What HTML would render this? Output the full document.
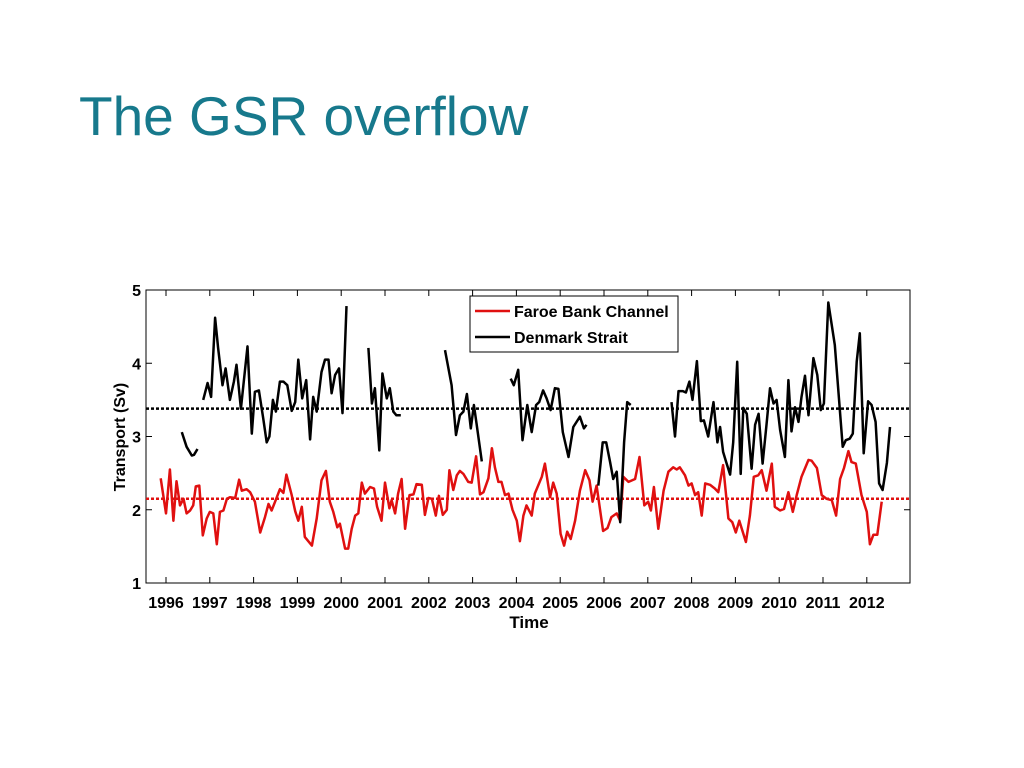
<!DOCTYPE html>
<html><head><meta charset="utf-8">
<style>
body{margin:0;background:#fff;width:1024px;height:768px;overflow:hidden;font-family:"Liberation Sans",sans-serif}
#title{position:absolute;left:79px;top:84px;font-size:55px;color:#17798c;margin:0;font-weight:normal}
</style></head><body>
<h1 id="title">The GSR overflow</h1>
<svg id="chart" width="1024" height="768" style="position:absolute;left:0;top:0"></svg>
<script>
const yTicks=[1,2,3,4,5];
const xTicks=[1996,1997,1998,1999,2000,2001,2002,2003,2004,2005,2006,2007,2008,2009,2010,2011,2012];
const fbcMean=2.15;
const dsMean=3.38;
const fbcYears=[1995.88,1996.00,1996.09,1996.17,1996.24,1996.32,1996.40,1996.47,1996.55,1996.62,1996.68,1996.76,1996.84,1996.93,1997.00,1997.08,1997.16,1997.23,1997.31,1997.39,1997.46,1997.58,1997.67,1997.73,1997.84,1997.92,1998.03,1998.15,1998.26,1998.34,1998.41,1998.49,1998.60,1998.68,1998.75,1998.87,1998.95,1999.02,1999.10,1999.17,1999.33,1999.44,1999.55,1999.65,1999.74,1999.82,1999.91,1999.97,2000.09,2000.16,2000.24,2000.32,2000.39,2000.47,2000.54,2000.66,2000.75,2000.82,2000.92,2001.00,2001.10,2001.15,2001.23,2001.30,2001.38,2001.46,2001.56,2001.65,2001.72,2001.84,2001.91,2001.99,2002.07,2002.16,2002.23,2002.32,2002.41,2002.47,2002.56,2002.64,2002.71,2002.79,2002.90,2002.98,2003.08,2003.17,2003.25,2003.36,2003.44,2003.51,2003.59,2003.66,2003.74,2003.82,2003.91,2004.01,2004.08,2004.16,2004.23,2004.35,2004.42,2004.58,2004.65,2004.77,2004.84,2004.92,2005.01,2005.09,2005.16,2005.24,2005.34,2005.45,2005.57,2005.67,2005.74,2005.83,2005.98,2006.08,2006.17,2006.29,2006.37,2006.44,2006.56,2006.71,2006.81,2006.92,2007.01,2007.07,2007.14,2007.24,2007.36,2007.47,2007.58,2007.66,2007.73,2007.85,2007.93,2008.00,2008.08,2008.15,2008.23,2008.31,2008.42,2008.53,2008.61,2008.72,2008.84,2008.93,2009.01,2009.09,2009.24,2009.33,2009.42,2009.52,2009.60,2009.71,2009.83,2009.90,2010.02,2010.11,2010.21,2010.31,2010.40,2010.51,2010.67,2010.74,2010.86,2010.97,2011.08,2011.20,2011.30,2011.39,2011.48,2011.58,2011.65,2011.75,2011.88,2012.00,2012.07,2012.15,2012.24,2012.34];
const fbcVals=[2.43,1.95,2.55,1.85,2.39,2.06,2.15,1.95,1.99,2.06,2.32,2.33,1.65,1.88,1.97,1.95,1.53,1.97,1.99,2.15,2.17,2.16,2.41,2.26,2.28,2.24,2.11,1.69,1.90,2.08,1.99,2.11,2.28,2.23,2.48,2.20,1.98,1.85,2.04,1.63,1.51,1.88,2.40,2.53,2.11,1.97,1.76,1.81,1.47,1.47,1.74,1.92,1.95,2.37,2.22,2.31,2.29,2.04,1.85,2.37,2.02,2.13,1.95,2.22,2.42,1.74,2.20,2.21,2.35,2.34,1.93,2.16,2.15,1.92,2.19,1.93,2.00,2.54,2.27,2.47,2.53,2.49,2.38,2.37,2.73,2.21,2.24,2.43,2.84,2.58,2.38,2.38,2.20,2.22,2.00,1.85,1.57,1.92,2.06,1.92,2.22,2.45,2.63,2.17,2.37,2.22,1.67,1.51,1.70,1.60,1.85,2.26,2.54,2.40,2.11,2.33,1.71,1.75,1.90,1.95,1.85,2.45,2.38,2.42,2.72,2.06,2.11,1.99,2.31,1.74,2.26,2.52,2.58,2.55,2.58,2.47,2.33,2.36,2.20,2.24,1.92,2.36,2.34,2.29,2.24,2.61,1.88,1.83,1.69,1.85,1.56,1.92,2.45,2.47,2.54,2.26,2.63,2.04,1.99,2.01,2.24,1.97,2.20,2.45,2.68,2.67,2.57,2.20,2.15,2.13,1.92,2.42,2.57,2.80,2.65,2.63,2.20,1.97,1.53,1.66,1.66,2.11];
const dsYears=[1996.36,1996.47,1996.59,1996.64,1996.72,null,
1996.85,1996.95,1997.03,1997.12,1997.19,1997.29,1997.36,1997.46,1997.55,1997.61,1997.71,1997.86,1997.96,1998.03,1998.12,1998.22,1998.30,1998.36,1998.44,1998.51,1998.60,1998.68,1998.77,1998.87,1998.95,1999.02,1999.11,1999.20,1999.29,1999.36,1999.44,1999.55,1999.63,1999.71,1999.78,1999.86,1999.95,2000.03,2000.12,null,
2000.62,2000.70,2000.77,2000.87,2000.94,2001.04,2001.11,2001.19,2001.26,2001.36,null,
2002.37,2002.52,2002.62,2002.71,2002.79,2002.87,2002.96,2003.03,2003.09,2003.21,null,
2003.87,2003.94,2004.04,2004.14,2004.25,2004.35,2004.45,2004.52,2004.61,2004.69,2004.78,2004.88,2004.96,2005.06,2005.19,2005.30,2005.45,2005.54,2005.60,null,
2005.87,2005.97,2006.05,2006.14,2006.21,2006.29,2006.37,2006.46,2006.53,2006.61,null,
2007.54,2007.62,2007.70,2007.80,2007.87,2007.95,2008.02,2008.12,2008.21,2008.28,2008.38,2008.50,2008.59,2008.65,2008.72,2008.79,2008.88,2008.95,2009.04,2009.12,2009.18,2009.26,2009.37,2009.45,2009.53,2009.62,2009.71,2009.79,2009.87,2009.94,2010.02,2010.13,2010.21,2010.28,2010.36,2010.44,2010.51,2010.59,2010.67,2010.78,2010.87,2010.95,2011.02,2011.12,2011.27,2011.45,2011.52,2011.61,2011.68,2011.77,2011.84,2011.93,2012.03,2012.11,2012.20,2012.28,2012.36,2012.46,2012.53];
const dsVals=[3.06,2.86,2.74,2.75,2.83,null,
3.50,3.73,3.54,4.62,4.21,3.70,3.93,3.50,3.75,3.98,3.38,4.23,3.04,3.61,3.63,3.25,2.92,3.00,3.50,3.34,3.75,3.75,3.70,3.35,3.47,4.05,3.52,3.77,2.96,3.54,3.34,3.88,4.05,4.05,3.59,3.84,3.93,3.32,4.78,null,
4.21,3.45,3.66,2.81,3.86,3.52,3.66,3.34,3.29,3.29,null,
4.18,3.70,3.02,3.29,3.34,3.58,3.11,3.43,3.18,2.66,null,
3.79,3.70,3.91,2.95,3.43,3.06,3.43,3.47,3.63,3.52,3.36,3.66,3.65,3.06,2.72,3.13,3.27,3.11,3.16,null,
2.33,2.92,2.92,2.65,2.42,2.52,1.83,2.92,3.47,3.43,null,
3.47,3.00,3.62,3.62,3.60,3.75,3.50,4.03,3.21,3.22,3.00,3.47,2.92,3.13,2.79,2.65,2.48,2.92,4.02,2.49,3.39,3.31,2.56,3.16,3.31,2.63,3.16,3.66,3.45,3.50,3.09,2.72,3.77,3.07,3.40,3.20,3.54,3.83,3.29,4.07,3.84,3.36,3.45,4.83,4.25,2.86,2.95,2.97,3.04,4.02,4.41,2.77,3.48,3.43,3.20,2.36,2.27,2.64,3.13];

const svg=document.getElementById('chart');
const NS='http://www.w3.org/2000/svg';
const L=146,R=910,T=290,B=583;
const X=yr=>166+(yr-1996)*43.8;
const Y=v=>B-(v-1)*(B-T)/4;
function mk(tag,attrs,parent){const e=document.createElementNS(NS,tag);for(const k in attrs)e.setAttribute(k,attrs[k]);(parent||svg).appendChild(e);return e;}
function pathFrom(xs,vs){let d='',pen=false;for(let i=0;i<xs.length;i++){if(xs[i]===null){pen=false;continue;}d+=(pen?'L':'M')+X(xs[i]).toFixed(1)+' '+Y(vs[i]).toFixed(1);pen=true;}return d;}

const frame=mk('rect',{x:L,y:T,width:R-L,height:B-T,fill:'none',stroke:'#000','stroke-width':1});



yTicks.forEach(v=>{
  const t=mk('path',{d:`M${L} ${Y(v)}h6M${R} ${Y(v)}h-6`,stroke:'#000'});
  
  
  const l=mk('text',{x:L-5,y:Y(v)+6,'text-anchor':'end','font-size':16,'font-weight':'bold','font-family':'Liberation Sans'});
  l.textContent=v;
  
  
});
xTicks.forEach(yr=>{
  const t=mk('path',{d:`M${X(yr)} ${B}v-6M${X(yr)} ${T}v6`,stroke:'#000'});
  
  
  const l=mk('text',{x:X(yr),y:B+25,'text-anchor':'middle','font-size':16,'font-weight':'bold','font-family':'Liberation Sans'});
  l.textContent=yr;
  
  
});

const m1=mk('line',{x1:L,x2:R,y1:Y(dsMean),y2:Y(dsMean),stroke:'#000','stroke-width':2.5,'stroke-dasharray':'3 2'});


const m2=mk('line',{x1:L,x2:R,y1:Y(fbcMean),y2:Y(fbcMean),stroke:'#e01010','stroke-width':2.5,'stroke-dasharray':'3 2'});



const s1=mk('path',{d:pathFrom(fbcYears,fbcVals),fill:'none',stroke:'#e01010','stroke-width':2.5,'stroke-linejoin':'round'});


const s2=mk('path',{d:pathFrom(dsYears,dsVals),fill:'none',stroke:'#000','stroke-width':2.5,'stroke-linejoin':'round'});



const lg=mk('g',{});


mk('rect',{x:470,y:296,width:208,height:56,fill:'#fff',stroke:'#000'},lg);
const le1=mk('g',{},lg);


mk('line',{x1:475,x2:510,y1:311,y2:311,stroke:'#e01010','stroke-width':2.5},le1);
mk('text',{x:514,y:317,'font-size':16,'font-weight':'bold','font-family':'Liberation Sans'},le1).textContent='Faroe Bank Channel';
const le2=mk('g',{},lg);


mk('line',{x1:475,x2:510,y1:337,y2:337,stroke:'#000','stroke-width':2.5},le2);
mk('text',{x:514,y:343,'font-size':16,'font-weight':'bold','font-family':'Liberation Sans'},le2).textContent='Denmark Strait';

const xt=mk('text',{x:529,y:628,'text-anchor':'middle','font-size':17,'font-weight':'bold','font-family':'Liberation Sans'});
xt.textContent='Time';


const yt=mk('text',{x:0,y:0,'text-anchor':'middle','font-size':16,'font-weight':'bold','font-family':'Liberation Sans',transform:'translate(125 437) rotate(-90)'});
yt.textContent='Transport (Sv)';


</script>
</body></html>
